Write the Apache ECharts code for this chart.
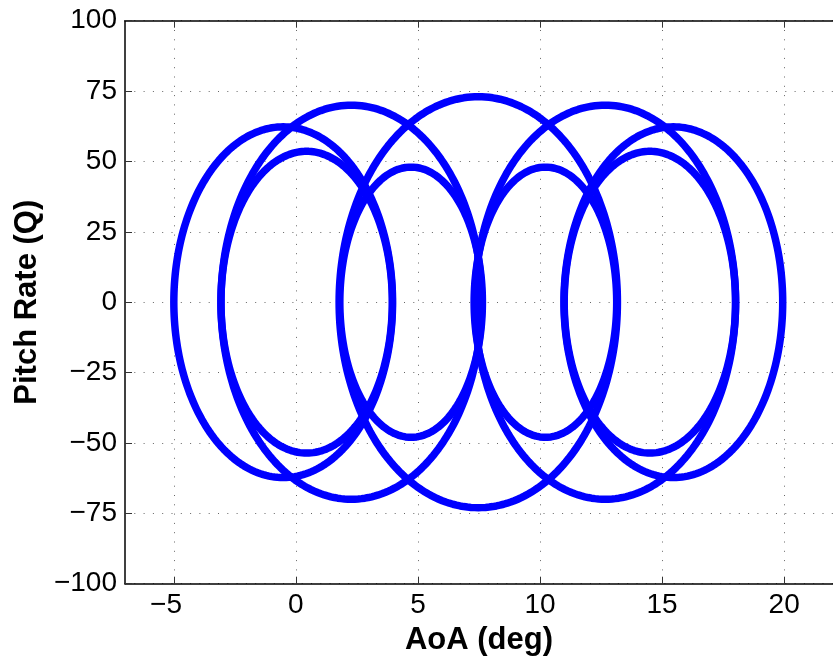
<!DOCTYPE html>
<html>
<head>
<meta charset="utf-8">
<title>Pitch Rate vs AoA</title>
<script src="https://cdn.jsdelivr.net/npm/echarts@6/dist/echarts.min.js"></script>
<style>
  html, body { margin: 0; padding: 0; background: #ffffff; }
  #chart { width: 833px; height: 663px; }
</style>
</head>
<body>
<div id="chart"></div>
<script>
// Phase-plane loops: each closed loop is an ellipse in (AoA, Q),
// given by its centre AoA, half-width in AoA and half-height in Q.
const loopCentreAoA   = [-0.52, 0.44, 2.27, 4.72, 7.47, 10.22, 12.67, 14.50, 15.46];
const loopHalfWidth   = [ 4.48, 3.51, 5.34, 2.92, 5.70,  2.92,  5.34,  3.51,  4.48];
const loopHalfHeightQ = [ 62.3, 53.6, 70.0, 48.0, 73.0,  48.0,  70.0,  53.6,  62.3];

const xTicks = [-5, 0, 5, 10, 15, 20];
const yTicks = [-100, -75, -50, -25, 0, 25, 50, 75, 100];

const FONT = '"Liberation Sans", Arial, Helvetica, sans-serif';
const STEPS = 240;

function loopPoints(i) {
  const pts = [];
  for (let k = 0; k <= STEPS; k++) {
    const t = (2 * Math.PI * k) / STEPS;
    pts.push([loopCentreAoA[i] + loopHalfWidth[i] * Math.cos(t),
              loopHalfHeightQ[i] * Math.sin(t)]);
  }
  return pts;
}

const series = loopCentreAoA.map((_, i) => ({
  type: 'line',
  data: loopPoints(i),
  showSymbol: false,
  symbol: 'none',
  smooth: false,
  silent: true,
  animation: false,
  lineStyle: { color: '#0000ff', width: 7.5, join: 'round', cap: 'round' }
}));

const minus = v => String(v).replace('-', '\u2212');

const chart = echarts.init(document.getElementById('chart'), null, { renderer: 'canvas' });
chart.setOption({
  backgroundColor: '#ffffff',
  animation: false,
  grid: { left: 125, top: 20.7, width: 715.7, height: 563, containLabel: false },
  xAxis: [{
    type: 'value',
    min: -7,
    max: 22,
    position: 'bottom',
    name: 'AoA (deg)',
    nameLocation: 'middle',
    nameGap: 36,
    nameTextStyle: { fontFamily: FONT, fontWeight: 'bold', fontSize: 31, color: '#000' },
    axisLine: { show: true, onZero: false, lineStyle: { color: '#000', width: 1.5 } },
    axisTick: { show: true, inside: true, length: 7, customValues: xTicks,
                lineStyle: { color: '#333', width: 1 } },
    axisLabel: { show: true, margin: 8, customValues: xTicks,
                 fontFamily: FONT, fontSize: 28, color: '#000',
                 formatter: v => v < 0 ? minus(v) + '  ' : String(v) },
    splitLine: { show: true, lineStyle: { color: '#666', width: 1, type: [1, 8.3] } }
  }, {
    type: 'value',
    min: -7,
    max: 22,
    position: 'top',
    axisLine: { show: true, onZero: false, lineStyle: { color: '#000', width: 1.5 } },
    axisTick: { show: true, inside: true, length: 7, customValues: xTicks,
                lineStyle: { color: '#333', width: 1 } },
    axisLabel: { show: false },
    splitLine: { show: false }
  }],
  yAxis: [{
    type: 'value',
    min: yTicks[0],
    max: yTicks[yTicks.length - 1],
    interval: 25,
    name: 'Pitch Rate (Q)',
    nameLocation: 'middle',
    nameGap: 77,
    nameTextStyle: { fontFamily: FONT, fontWeight: 'bold', fontSize: 31, color: '#000' },
    axisLine: { show: true, onZero: false, lineStyle: { color: '#000', width: 1.5 } },
    axisTick: { show: true, inside: true, length: 7, lineStyle: { color: '#333', width: 1 } },
    axisLabel: { show: true, margin: 8, fontFamily: FONT, fontSize: 28, color: '#000',
                 formatter: v => minus(v) },
    splitLine: { show: true, lineStyle: { color: '#666', width: 1, type: [1, 8.3] } }
  }],
  series: series
});
</script>
</body>
</html>
